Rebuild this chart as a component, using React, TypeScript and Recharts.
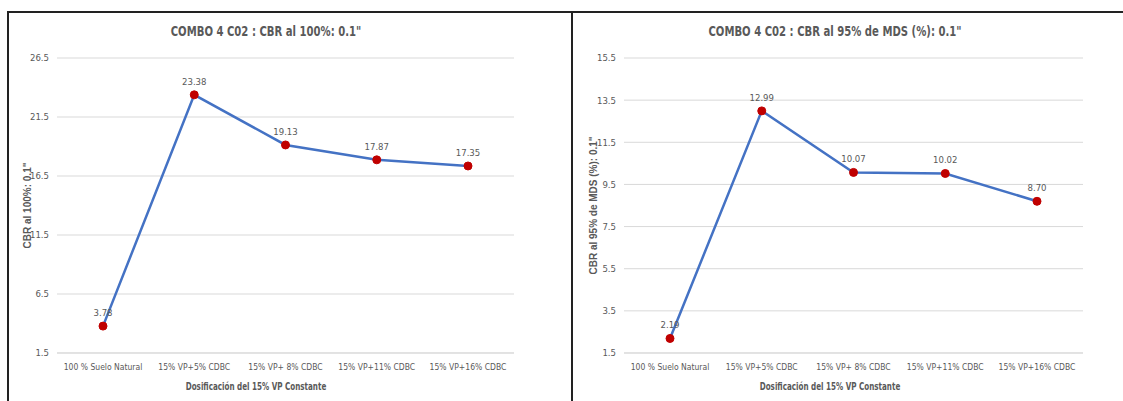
import React from "react";
import { CartesianGrid, LabelList, Line, LineChart, XAxis, YAxis } from "recharts";

const categories = ["100 % Suelo Natural", "15% VP+5% CDBC", "15% VP+ 8% CDBC", "15% VP+11% CDBC", "15% VP+16% CDBC"];
const cbr100 = [3.78, 23.38, 19.13, 17.87, 17.35];
const cbr95 = [2.19, 12.99, 10.07, 10.02, 8.7];
const ticks100 = [1.5, 6.5, 11.5, 16.5, 21.5, 26.5];
const ticks95 = [1.5, 3.5, 5.5, 7.5, 9.5, 11.5, 13.5, 15.5];

const FONT = "'DejaVu Sans Condensed', 'Liberation Sans Narrow', sans-serif";
const TEXT = "#595959";
const LINE = "#4472C4";
const DOT = "#C00000";

type PanelProps = {
  values: number[];
  ticks: number[];
  title: string;
  yLabel: string;
  left: number;
  width: number;
  yAxisWidth: number;
  rightMargin: number;
  titleCenter: number;
  xTitleCenter: number;
  yLabelOffset: number;
  pad: number;
};

function CenteredText({ center, top, size, text, scale }: { center: number; top: number; size: number; text: string; scale: number }) {
  return (
    <div
      style={{
        position: "absolute",
        top,
        left: center - 250,
        width: 500,
        textAlign: "center",
        fontFamily: FONT,
        fontWeight: "bold",
        fontSize: size,
        color: TEXT,
        transform: `scaleX(${scale})`,
        whiteSpace: "nowrap",
        zIndex: 2,
      }}
    >
      {text}
    </div>
  );
}

function Panel(p: PanelProps) {
  const data = categories.map((c, i) => ({ name: c, value: p.values[i] }));
  return (
    <div style={{ position: "absolute", left: p.left, top: 0, width: p.width, height: 401 }}>
      <CenteredText center={p.titleCenter - p.left} top={23} size={14} text={p.title} scale={0.8} />
      <CenteredText center={p.xTitleCenter - p.left} top={380} size={10.5} text="Dosificación  del 15% VP Constante" scale={0.76} />
      <LineChart width={p.width} height={401} data={data} margin={{ top: 58, right: p.rightMargin, left: 0, bottom: 0 }}>
        <CartesianGrid stroke="#d9d9d9" vertical={false} />
        <XAxis
          dataKey="name"
          height={48}
          padding={{ left: p.pad, right: p.pad }}
          tickLine={false}
          axisLine={{ stroke: "#d9d9d9" }}
          tickSize={0}
          tickMargin={11}
          interval={0}
          tick={{ fill: TEXT, fontSize: 8.5, fontFamily: FONT }}
        />
        <YAxis
          width={p.yAxisWidth}
          domain={[p.ticks[0], p.ticks[p.ticks.length - 1]]}
          ticks={p.ticks}
          tickLine={false}
          axisLine={false}
          tickSize={0}
          tickMargin={8}
          tickFormatter={(v: number) => v.toFixed(1)}
          tick={{ fill: TEXT, fontSize: 9.5, fontFamily: FONT }}
          label={{ value: p.yLabel, angle: -90, position: "insideLeft", offset: p.yLabelOffset, fill: TEXT, fontSize: 10, fontWeight: "bold", fontFamily: "'Liberation Sans', sans-serif", style: { textAnchor: "middle" } }}
        />
        <Line
          dataKey="value"
          stroke={LINE}
          strokeWidth={2.5}
          dot={{ r: 4, fill: DOT, stroke: DOT, strokeWidth: 1 }}
          isAnimationActive={false}
        >
          <LabelList dataKey="value" position="top" offset={10} formatter={(v: any) => Number(v).toFixed(2)} style={{ fill: TEXT, fontSize: 9.5, fontFamily: FONT }} />
        </Line>
      </LineChart>
    </div>
  );
}

export default function App() {
  return (
    <div style={{ position: "absolute", left: 0, top: 0, width: 1123, height: 401, background: "#fff", overflow: "hidden" }}>
      <div style={{ position: "absolute", left: 7, top: 11, width: 1116, height: 2, background: "#222" }} />
      <div style={{ position: "absolute", left: 7, top: 11, width: 2, height: 390, background: "#222" }} />
      <div style={{ position: "absolute", left: 571, top: 11, width: 2, height: 390, background: "#222" }} />
      <Panel
        values={cbr100}
        ticks={ticks100}
        title={'COMBO 4 C02 : CBR al 100%: 0.1"'}
        yLabel={'CBR al 100%: 0.1"'}
        left={9}
        width={562}
        yAxisWidth={48}
        rightMargin={57}
        titleCenter={266}
        xTitleCenter={256}
        yLabelOffset={18}
        pad={46}
      />
      <Panel
        values={cbr95}
        ticks={ticks95}
        title={'COMBO 4 C02 : CBR al 95% de MDS (%): 0.1"'}
        yLabel={'CBR al 95% de MDS (%): 0.1"'}
        left={573}
        width={550}
        yAxisWidth={51}
        rightMargin={40}
        titleCenter={835}
        xTitleCenter={830}
        yLabelOffset={20}
        pad={46}
      />
    </div>
  );
}
